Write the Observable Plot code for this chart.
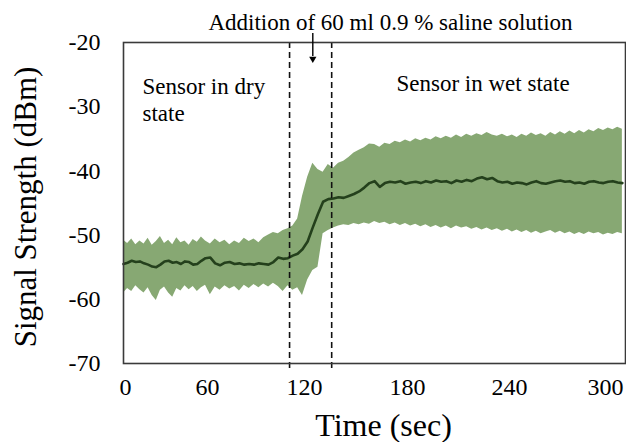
<!DOCTYPE html>
<html>
<head>
<meta charset="utf-8">
<script src="https://cdn.jsdelivr.net/npm/d3@7"></script>
<script src="https://cdn.jsdelivr.net/npm/@observablehq/plot@0.6"></script>
<style>
  html, body { margin: 0; padding: 0; background: #fff; }
  #chart { width: 626px; height: 442px; }
</style>
</head>
<body>
<div id="chart"></div>
<script>
// ---- data ----
const timeStart = 0;     // sec
const timeStep = 3;      // sec between samples
const meanSignal = [
  -54.5,-54.3,-54.0,-54.2,-54.1,-54.4,-54.6,-54.9,-55.0,-54.6,
  -54.1,-54.0,-54.3,-54.2,-54.5,-54.1,-54.2,-54.6,-54.5,-54.0,
  -53.6,-53.5,-54.4,-54.7,-54.3,-54.2,-54.5,-54.4,-54.6,-54.5,
  -54.6,-54.4,-54.5,-54.6,-54.2,-53.5,-53.7,-53.6,-53.2,-52.9,
  -52.2,-51.0,-48.8,-46.7,-44.8,-44.4,-44.3,-44.1,-44.2,-43.9,
  -43.6,-43.2,-42.6,-41.9,-41.6,-42.5,-41.9,-41.7,-41.8,-41.6,
  -42.0,-41.8,-41.7,-41.9,-41.6,-41.8,-41.5,-41.7,-41.6,-41.9,
  -41.5,-41.7,-41.4,-41.6,-41.2,-41.0,-41.3,-41.1,-41.6,-41.8,
  -41.7,-42.0,-41.8,-41.9,-42.1,-41.8,-41.6,-41.9,-42.0,-41.8,
  -41.6,-41.5,-41.7,-41.6,-41.9,-41.8,-42.0,-41.7,-41.6,-41.8,
  -41.9,-41.7,-41.6,-41.8,-41.9
];
const upperSignal = [
  -50.8,-51.3,-50.6,-51.5,-50.9,-51.4,-50.5,-51.6,-51.0,-50.2,
  -51.3,-50.8,-51.5,-50.4,-51.2,-50.9,-51.6,-50.7,-51.1,-50.3,
  -50.9,-51.4,-50.6,-51.2,-50.8,-51.5,-50.9,-51.3,-50.5,-51.0,
  -50.6,-51.2,-50.4,-50.0,-49.6,-49.8,-49.3,-49.0,-48.6,-47.5,
  -44.0,-41.0,-38.8,-39.8,-40.2,-39.0,-39.6,-38.8,-38.5,-37.9,
  -37.2,-36.8,-36.4,-35.8,-35.9,-36.3,-35.7,-35.9,-35.4,-35.6,
  -35.2,-35.5,-35.0,-35.3,-34.9,-35.2,-34.7,-35.0,-34.6,-34.9,
  -34.4,-34.8,-34.3,-34.6,-34.2,-34.5,-34.0,-34.4,-34.6,-34.3,
  -34.7,-34.4,-34.8,-34.3,-34.6,-34.1,-34.5,-34.2,-34.6,-34.0,
  -34.4,-33.9,-34.3,-33.8,-34.2,-33.7,-34.1,-33.6,-33.9,-33.4,
  -33.7,-33.3,-33.6,-33.2,-33.5
];
const lowerSignal = [
  -59.0,-58.3,-58.8,-57.9,-58.5,-59.0,-58.2,-59.4,-60.2,-58.6,
  -58.1,-59.0,-59.7,-58.3,-58.7,-57.9,-58.5,-58.0,-58.8,-58.2,
  -57.8,-59.3,-58.1,-58.6,-57.9,-58.4,-58.0,-58.7,-57.8,-58.3,
  -57.7,-58.2,-57.6,-58.1,-57.5,-58.0,-58.8,-57.9,-58.6,-58.2,
  -59.4,-57.0,-55.5,-55.0,-49.8,-49.3,-48.9,-48.6,-48.4,-48.5,
  -48.2,-48.4,-48.1,-48.3,-47.9,-48.2,-48.0,-48.4,-48.1,-48.5,
  -48.2,-48.6,-48.3,-48.7,-48.4,-48.8,-48.5,-48.9,-48.6,-49.0,
  -48.6,-48.9,-48.7,-49.1,-48.8,-49.2,-48.9,-49.3,-49.0,-49.4,
  -49.1,-49.5,-49.2,-49.6,-49.3,-49.7,-49.4,-49.8,-49.5,-49.3,
  -49.7,-49.4,-49.8,-49.5,-49.9,-49.6,-49.9,-49.5,-49.8,-49.6,
  -50.0,-49.7,-49.9,-49.6,-49.8
];
const xTicks = [0, 60, 120, 180, 240, 300];
const yTicks = [-70, -60, -50, -40, -30, -20];
const phaseBounds = [112, 137];      // sec, dashed lines
const additionTime = 126;            // sec, arrow
const titleText = "Addition of 60 ml 0.9 % saline solution";
const dryLabel = "Sensor in dry\nstate";
const wetLabel = "Sensor in wet state";
const xLabel = "Time (sec)";
const yLabel = "Signal Strength (dBm)";

// ---- table ----
const n = Math.min(meanSignal.length, upperSignal.length, lowerSignal.length);
const rows = d3.range(n).map(i => ({
  t: timeStart + i * timeStep,
  mean: meanSignal[i], hi: upperSignal[i], lo: lowerSignal[i]
}));

// the reference's time axis is not evenly spaced: warp it piecewise
const timeWarp = d3.scaleLinear()
  .domain([0, 60, 120, 180, 240, 300, 314])
  .range([0, 82, 179, 282, 384, 480, 502]);

const serif = "'Liberation Serif', 'Times New Roman', serif";

const chart = Plot.plot({
  width: 626,
  height: 442,
  marginLeft: 123,
  marginRight: 1,
  marginTop: 42,
  marginBottom: 79,
  style: { fontFamily: serif, color: "#000", background: "#fff", overflow: "visible" },
  x: { transform: timeWarp, domain: [0, 502], axis: null },
  y: { domain: [-70, -20], axis: null },
  marks: [
    Plot.areaY(rows, { x: "t", y1: "lo", y2: "hi", fill: "#87a873" }),
    Plot.lineY(rows, { x: "t", y: "mean", stroke: "#24401c", strokeWidth: 2.6 }),
    Plot.ruleX(phaseBounds, { stroke: "#111", strokeWidth: 1.6, strokeDasharray: "6,4", insetBottom: -6 }),
    Plot.frame({ stroke: "#3a3a3a", strokeWidth: 1.6 }),
    // x tick labels drawn through the (warped) x scale
    Plot.text(xTicks, { x: d => d, text: d => String(d), frameAnchor: "bottom", lineAnchor: "top", dx: 2, dy: 14, fontSize: 24 }),
    Plot.axisY({ ticks: yTicks, tickSize: 0, tickPadding: 23, fontSize: 24, tickFormat: d => String(d), label: null }),
    Plot.ruleX([additionTime], { y1: -18.6, y2: -22.2, stroke: "#000", strokeWidth: 1.4 }),
    Plot.dot([additionTime], { x: d => d, y: -22.55, symbol: "triangle", r: 2.7, rotate: 180, fill: "#000", stroke: null }),
    Plot.text([titleText], { frameAnchor: "top", lineAnchor: "middle", dx: 16, dy: -20, fontSize: 23 }),
    Plot.text([dryLabel], { frameAnchor: "top-left", textAnchor: "start", lineAnchor: "top", dx: 19, dy: 32, fontSize: 23, lineHeight: 1.17 }),
    Plot.text([wetLabel], { frameAnchor: "top-left", textAnchor: "start", lineAnchor: "top", dx: 273, dy: 32, fontSize: 23 }),
    Plot.text([xLabel], { frameAnchor: "bottom", lineAnchor: "top", dx: 9, dy: 50, fontSize: 32 }),
    Plot.text([yLabel], { frameAnchor: "left", textAnchor: "middle", rotate: -90, lineAnchor: "middle", dx: -97, dy: 4, fontSize: 31 })
  ]
});
document.getElementById("chart").appendChild(chart);
</script>
</body>
</html>
